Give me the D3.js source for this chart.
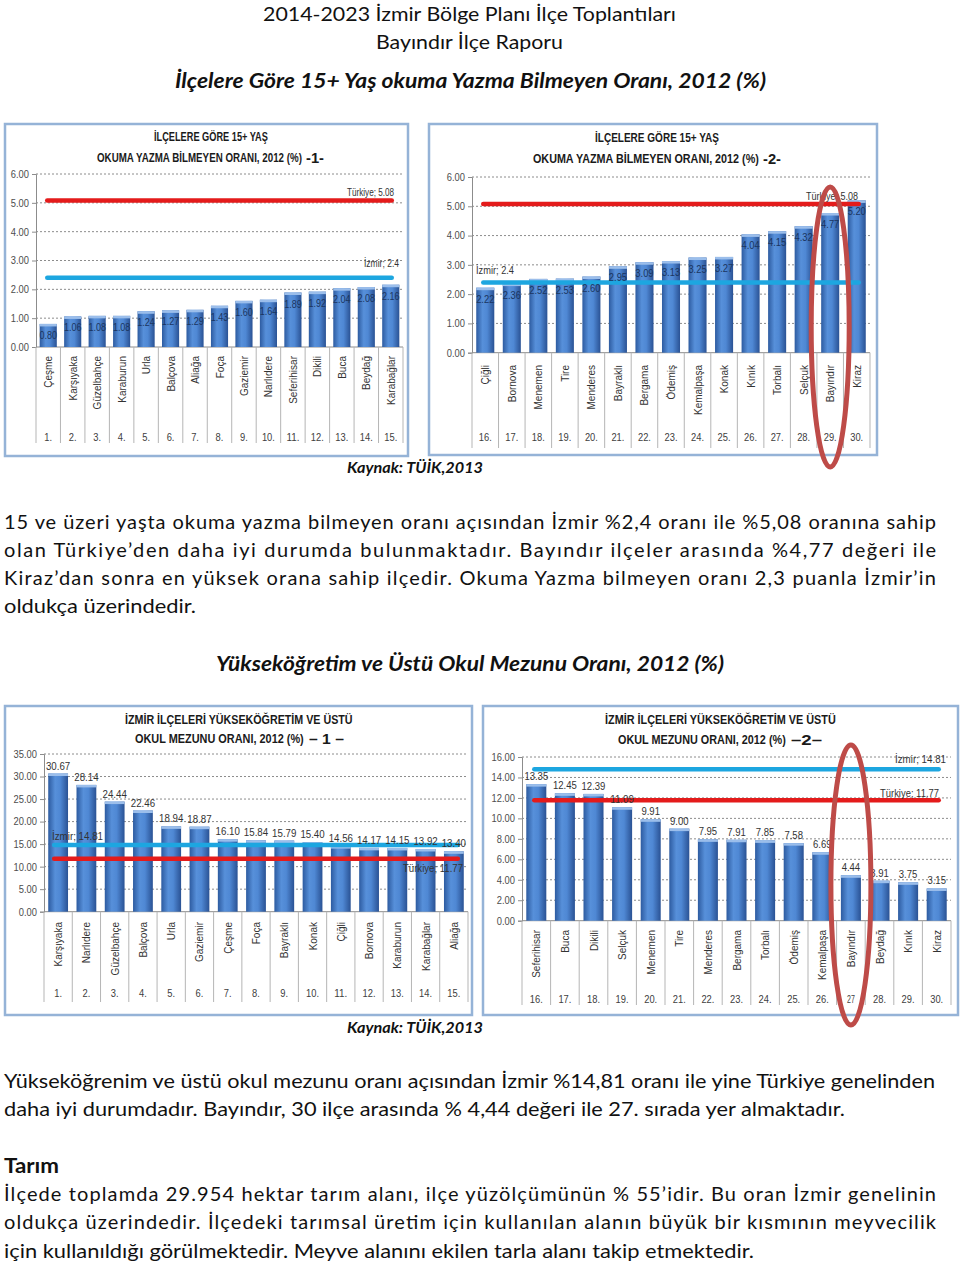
<!DOCTYPE html>
<html><head><meta charset="utf-8">
<script src="https://cdnjs.cloudflare.com/ajax/libs/d3/7.8.5/d3.min.js"></script>
<style>
html,body{margin:0;padding:0;background:#fff;}
svg{display:block;}
</style></head>
<body>
<svg id="page" width="960" height="1264"></svg>
<script>
// ---------------- DATA ----------------
const okumaCats1 = ["Çeşme","Karşıyaka","Güzelbahçe","Karaburun","Urla","Balçova","Aliağa","Foça","Gaziemir","Narlıdere","Seferihisar","Dikili","Buca","Beydağ","Karabağlar"];
const okumaVals1 = [0.80,1.06,1.08,1.08,1.24,1.27,1.29,1.43,1.60,1.64,1.89,1.92,2.04,2.08,2.16];
const okumaRanks1 = ["1.","2.","3.","4.","5.","6.","7.","8.","9.","10.","11.","12.","13.","14.","15."];

const okumaCats2 = ["Çiğli","Bornova","Menemen","Tire","Menderes","Bayraklı","Bergama","Ödemiş","Kemalpaşa","Konak","Kınık","Torbalı","Selçuk","Bayındır","Kiraz"];
const okumaVals2 = [2.22,2.36,2.52,2.53,2.60,2.95,3.09,3.13,3.25,3.27,4.04,4.15,4.32,4.77,5.20];
const okumaRanks2 = ["16.","17.","18.","19.","20.","21.","22.","23.","24.","25.","26.","27.","28.","29.","30."];

const okumaTurkiye = 5.08;
const okumaIzmir = 2.4;
const okumaTicks = [0,1,2,3,4,5,6];

const yuksekCats1 = ["Karşıyaka","Narlıdere","Güzelbahçe","Balçova","Urla","Gaziemir","Çeşme","Foça","Bayraklı","Konak","Çiğli","Bornova","Karaburun","Karabağlar","Aliağa"];
const yuksekVals1 = [30.67,28.14,24.44,22.46,18.94,18.87,16.10,15.84,15.79,15.40,14.56,14.17,14.15,13.92,13.40];
const yuksekRanks1 = ["1.","2.","3.","4.","5.","6.","7.","8.","9.","10.","11.","12.","13.","14.","15."];
const yuksekTicks1 = [0,5,10,15,20,25,30,35];

const yuksekCats2 = ["Seferihisar","Buca","Dikili","Selçuk","Menemen","Tire","Menderes","Bergama","Torbalı","Ödemiş","Kemalpaşa","Bayındır","Beydağ","Kınık","Kiraz"];
const yuksekVals2 = [13.35,12.45,12.39,11.09,9.91,9.00,7.95,7.91,7.85,7.58,6.69,4.44,3.91,3.75,3.15];
const yuksekRanks2 = ["16.","17.","18.","19.","20.","21.","22.","23.","24.","25.","26.","27","28.","29.","30."];
const yuksekTicks2 = [0,2,4,6,8,10,12,14,16];

const yuksekTurkiye = 11.77;
const yuksekIzmir = 14.81;

// ---------------- DRAWING ----------------
const svg = d3.select("#page");
const SANS = '"Liberation Sans",Arial,sans-serif';
const BODY = 'Lato,"Open Sans",sans-serif';

const defs = svg.append("defs");
const grad = defs.append("linearGradient").attr("id","barGrad").attr("x1","0").attr("x2","1").attr("y1","0").attr("y2","0");
grad.append("stop").attr("offset","0%").attr("stop-color","#2D5BA0");
grad.append("stop").attr("offset","35%").attr("stop-color","#5790DA");
grad.append("stop").attr("offset","60%").attr("stop-color","#4F88D4");
grad.append("stop").attr("offset","100%").attr("stop-color","#2A5294");

// width of a numeric label like "12.45" (digits + dot)
function numW(s, dw){ return (s.length-1)*dw + dw*0.5; }

// text squeezed horizontally with a transform so its box is exactly [x1,x2]
function scaledText(g, t, x1, x2, yb, size){
  const el = g.append("text").attr("x",0).attr("y",0)
    .attr("font-family",SANS).attr("font-weight","bold").attr("font-size",size).attr("fill","#1a1a1a")
    .text(t);
  const w = el.node().getComputedTextLength();
  el.attr("transform",`translate(${x1},${yb}) scale(${(x2-x1)/w},1)`);
  return el;
}

function drawChart(c){
  const g = svg.append("g");
  // frame
  g.append("rect").attr("x",c.frame[0]).attr("y",c.frame[1])
    .attr("width",c.frame[2]-c.frame[0]).attr("height",c.frame[3]-c.frame[1])
    .attr("fill","#fff").attr("stroke","#95B3D7").attr("stroke-width",2.5);
  // title
  scaledText(g, c.title1, c.t1[0], c.t1[1], c.titleY[0], 12);
  scaledText(g, c.title2, c.t2[0], c.t2[1], c.titleY[1], 12);
  scaledText(g, c.titleSuffix, c.t3[0], c.t3[1], c.titleY[1]+1, 15);

  const x = d3.scaleBand().domain(c.cats).range([c.xl,c.xr]).paddingInner(0).paddingOuter(0);
  const y = d3.scaleLinear().domain([0,c.ymax]).range([c.y0,c.y1]);
  const bw = x.bandwidth()*c.barFrac;
  const off = (x.bandwidth()-bw)/2;

  // grid
  g.selectAll(".grid").data(c.ticks.filter(t=>t>0)).join("line")
    .attr("x1",c.xl).attr("x2",c.xr).attr("y1",d=>y(d)).attr("y2",d=>y(d))
    .attr("stroke","#8c8c8c").attr("stroke-width",1).attr("stroke-dasharray","2,2");

  // y axis
  const ax = g.append("g").attr("transform",`translate(${c.xl},0)`)
    .call(d3.axisLeft(y).tickValues(c.ticks).tickFormat(d3.format(".2f")).tickSize(4));
  ax.select(".domain").attr("stroke","#8c8c8c");
  ax.selectAll(".tick line").attr("stroke","#8c8c8c");
  ax.selectAll("text").attr("font-family",SANS).attr("font-size",10.5).attr("fill","#4d4d4d")
    .each(function(d){ d3.select(this).attr("textLength", numW(d3.format(".2f")(d),5.2)).attr("lengthAdjust","spacingAndGlyphs"); });

  // baseline
  g.append("line").attr("x1",c.xl).attr("x2",c.xr).attr("y1",c.y0).attr("y2",c.y0).attr("stroke","#8c8c8c");

  // category separators
  const bounds = c.cats.map(d=>x(d)).concat([c.xr]);
  g.selectAll(".sep").data(bounds).join("line")
    .attr("x1",d=>d).attr("x2",d=>d).attr("y1",c.y0).attr("y2",c.sepBottom)
    .attr("stroke","#b5b5b5").attr("stroke-width",1);

  // bars
  g.selectAll(".bar").data(c.vals).join("rect")
    .attr("x",(d,i)=>x(c.cats[i])+off).attr("width",bw)
    .attr("y",d=>y(d)).attr("height",d=>c.y0-y(d))
    .attr("fill","url(#barGrad)");
  g.selectAll(".cap").data(c.vals).join("rect")
    .attr("x",(d,i)=>x(c.cats[i])+off).attr("width",bw)
    .attr("y",d=>y(d)).attr("height",2.5)
    .attr("fill","#9BBEEB");

  // reference lines
  const lx1 = x(c.cats[0])+x.bandwidth()/2 - (c.lineExt||0);
  const lx2 = x(c.cats[c.cats.length-1])+x.bandwidth()/2 + (c.lineExt||0);
  c.refs.forEach(r=>{
    g.append("line").attr("x1",lx1).attr("x2",lx2).attr("y1",y(r.v)).attr("y2",y(r.v))
      .attr("stroke",r.color).attr("stroke-width",4.5).attr("stroke-linecap","round");
  });

  // value labels
  g.selectAll(".vl").data(c.vals).join("text")
    .attr("x",(d,i)=>x(c.cats[i])+x.bandwidth()/2)
    .attr("y",d=>c.inside ? y(d)+15 : y(d)-4)
    .attr("text-anchor","middle").attr("font-family",SANS).attr("font-size",c.inside?10.5:11.5)
    .attr("fill",c.inside ? "#1B3560" : "#333")
    .attr("textLength",d=>numW(d.toFixed(2),c.valK)).attr("lengthAdjust","spacingAndGlyphs")
    .text(d=>d.toFixed(2));

  // ref labels
  c.refs.forEach(r=>{
    g.append("text").attr("x",r.lx).attr("y",r.ly).attr("text-anchor",r.anchor)
      .attr("font-family",SANS).attr("font-size",11).attr("fill","#333")
      .attr("textLength",r.w).attr("lengthAdjust","spacingAndGlyphs")
      .text(r.label);
  });

  // category labels
  g.selectAll(".cl").data(c.cats).join("text")
    .attr("transform",d=>`translate(${x(d)+x.bandwidth()/2+4},${c.catTop}) rotate(-90)`)
    .attr("text-anchor","end").attr("font-family",SANS).attr("font-size",10)
    .attr("fill","#333").text(d=>d);
  // rank numbers
  g.selectAll(".rk").data(c.ranks).join("text")
    .attr("x",(d,i)=>x(c.cats[i])+x.bandwidth()/2).attr("y",c.rankY)
    .attr("text-anchor","middle").attr("font-family",SANS).attr("font-size",10.5).attr("fill","#404040")
    .attr("textLength",d=>numW(d,5.2)).attr("lengthAdjust","spacingAndGlyphs")
    .text(d=>d);

  // highlight ellipse
  if(c.ellipse){
    const idx = c.cats.indexOf(c.ellipse.cat);
    g.append("ellipse").attr("cx",x(c.cats[idx])+x.bandwidth()/2+c.ellipse.dx)
      .attr("cy",c.ellipse.cy).attr("rx",c.ellipse.rx).attr("ry",c.ellipse.ry)
      .attr("fill","none").attr("stroke","#BE4B48").attr("stroke-width",5);
  }
}

drawChart({
  frame:[5,124,408,456], titleY:[141,162],
  t1:[154,268], t2:[97,302], t3:[306,324],
  title1:"İLÇELERE GÖRE 15+ YAŞ", title2:"OKUMA YAZMA BİLMEYEN ORANI, 2012 (%)", titleSuffix:"-1-",
  cats:okumaCats1, vals:okumaVals1, ranks:okumaRanks1, ticks:okumaTicks, ymax:6,
  xl:36, xr:403, y0:347, y1:174, barFrac:0.7, inside:true, valK:5,
  sepBottom:443, catTop:356, rankY:441, lineExt:1,
  refs:[
    {v:okumaTurkiye,color:"#E41B1B",label:"Türkiye; 5.08",lx:394,ly:196,anchor:"end",w:47},
    {v:okumaIzmir,color:"#1DA6E0",label:"İzmir; 2.4",lx:399,ly:267,anchor:"end",w:35}
  ]
});

drawChart({
  frame:[429,124,877,455], titleY:[142,163],
  t1:[595,719], t2:[533,759], t3:[763,781],
  title1:"İLÇELERE GÖRE 15+ YAŞ", title2:"OKUMA YAZMA BİLMEYEN ORANI, 2012 (%)", titleSuffix:"-2-",
  cats:okumaCats2, vals:okumaVals2, ranks:okumaRanks2, ticks:okumaTicks, ymax:6,
  xl:472, xr:870, y0:352.7, y1:177, barFrac:0.68, inside:true, valK:5.2,
  sepBottom:448, catTop:365, rankY:441, lineExt:2,
  refs:[
    {v:okumaTurkiye,color:"#E41B1B",label:"Türkiye; 5.08",lx:858,ly:200,anchor:"end",w:52},
    {v:okumaIzmir,color:"#1DA6E0",label:"İzmir; 2.4",lx:476,ly:274,anchor:"start",w:38}
  ],
  ellipse:{cat:"Bayındır",dx:0,cy:327,rx:19,ry:140}
});

drawChart({
  frame:[5,706,472,1015], titleY:[724,743],
  t1:[125,353], t2:[135,304], t3:[309,344],
  title1:"İZMİR İLÇELERİ YÜKSEKÖĞRETİM VE ÜSTÜ", title2:"OKUL MEZUNU ORANI, 2012 (%)", titleSuffix:"– 1 –",
  cats:yuksekCats1, vals:yuksekVals1, ranks:yuksekRanks1, ticks:yuksekTicks1, ymax:35,
  xl:44, xr:468, y0:911.7, y1:754, barFrac:0.7, inside:false, valK:5.4,
  sepBottom:1002, catTop:922, rankY:997, lineExt:4,
  refs:[
    {v:yuksekIzmir,color:"#1DA6E0",label:"İzmir; 14.81",lx:52,ly:840,anchor:"start",w:51},
    {v:yuksekTurkiye,color:"#E41B1B",label:"Türkiye; 11.77",lx:463,ly:872,anchor:"end",w:60}
  ]
});

drawChart({
  frame:[483,706,958,1015], titleY:[724,744],
  t1:[605,836], t2:[618,786], t3:[791,822],
  title1:"İZMİR İLÇELERİ YÜKSEKÖĞRETİM VE ÜSTÜ", title2:"OKUL MEZUNU ORANI, 2012 (%)", titleSuffix:"–2–",
  cats:yuksekCats2, vals:yuksekVals2, ranks:yuksekRanks2, ticks:yuksekTicks2, ymax:16,
  xl:522, xr:951, y0:920.7, y1:757, barFrac:0.7, inside:false, valK:5.3,
  sepBottom:1005, catTop:930, rankY:1003, lineExt:2,
  refs:[
    {v:yuksekIzmir,color:"#1DA6E0",label:"İzmir; 14.81",lx:946,ly:763,anchor:"end",w:51},
    {v:yuksekTurkiye,color:"#E41B1B",label:"Türkiye; 11.77",lx:939,ly:797,anchor:"end",w:59}
  ],
  ellipse:{cat:"Bayındır",dx:0,cy:885,rx:20,ry:140}
});

// ---------------- PAGE TEXT ----------------
function line(t,x1,x2,yb,opts={}){
  const el = svg.append("text").attr("x",x1).attr("y",yb)
    .attr("font-family",BODY).attr("font-size",opts.size||20).attr("fill","#111")
    .attr("textLength",x2-x1).attr("lengthAdjust",opts.adj||"spacingAndGlyphs")
    .text(t);
  if(opts.bold) el.attr("font-weight","bold");
  if(opts.italic) el.attr("font-style","italic");
  return el;
}
line("2014-2023 İzmir Bölge Planı İlçe Toplantıları",263,676,21);
line("Bayındır İlçe Raporu",376,563,49);
line("İlçelere Göre 15+ Yaş okuma Yazma Bilmeyen Oranı, 2012 (%)",175,766,88,{bold:true,italic:true});
line("Kaynak: TÜİK,2013",347,483,473,{bold:true,italic:true,size:16});

line("15 ve üzeri yaşta okuma yazma bilmeyen oranı açısından İzmir %2,4 oranı ile %5,08 oranına sahip",4,936,529,{adj:"spacing"});
line("olan Türkiye’den daha iyi durumda bulunmaktadır. Bayındır ilçeler arasında %4,77 değeri ile",4,936,557,{adj:"spacing"});
line("Kiraz’dan sonra en yüksek orana sahip ilçedir. Okuma Yazma bilmeyen oranı 2,3 puanla İzmir’in",4,936,585,{adj:"spacing"});
line("oldukça üzerindedir.",4,196,613);

line("Yükseköğretim ve Üstü Okul Mezunu Oranı, 2012 (%)",216,724,671,{bold:true,italic:true});
line("Kaynak: TÜİK,2013",347,483,1033,{bold:true,italic:true,size:16});

line("Yükseköğrenim ve üstü okul mezunu oranı açısından İzmir %14,81 oranı ile yine Türkiye genelinden",4,935,1088);
line("daha iyi durumdadır. Bayındır, 30 ilçe arasında % 4,44 değeri ile 27. sırada yer almaktadır.",4,845,1116);

line("Tarım",4,59,1173,{bold:true});
line("İlçede toplamda 29.954 hektar tarım alanı, ilçe yüzölçümünün % 55’idir. Bu oran İzmir genelinin",4,936,1201,{adj:"spacing"});
line("oldukça üzerindedir. İlçedeki tarımsal üretim için kullanılan alanın büyük bir kısmının meyvecilik",4,936,1229,{adj:"spacing"});
line("için kullanıldığı görülmektedir. Meyve alanını ekilen tarla alanı takip etmektedir.",4,754,1258);
</script>
</body></html>
